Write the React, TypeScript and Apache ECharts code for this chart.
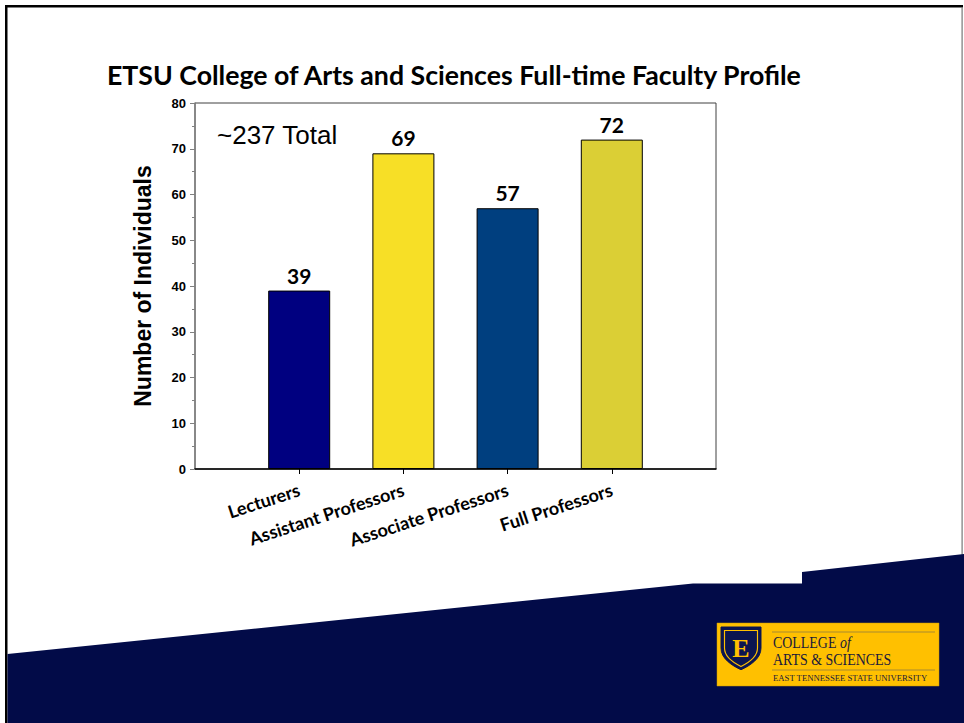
import React, { useEffect, useRef } from "react";
import * as echarts from "echarts";

const categories = ["Lecturers", "Assistant Professors", "Associate Professors", "Full Professors"];
const values = [39, 69, 57, 72];
const barColors = ["#000080", "#F7DF26", "#003F7F", "#DBCF35"];
const yTicks = { min: 0, max: 80, interval: 10 };

const shieldPath = "M0 0 L40 0 L40 22 C40 33 30 40 20 45 C10 40 0 33 0 22 Z";
let registered = false;

export default function App() {
  const ref = useRef<HTMLDivElement>(null);
  useEffect(() => {
    if (!ref.current) return;
    if (!registered) {
      echarts.graphic.registerShape("shield", echarts.graphic.extendPath(shieldPath, {}));
      registered = true;
    }
    const chart = echarts.init(ref.current, null, { renderer: "svg" });
    const cats = ["", ...categories, ""];
    const data: any[] = ["-", ...values.map((v, i) => ({ value: v, itemStyle: { color: barColors[i] } })), "-"];
    const navy = "#020B48";
    chart.setOption({
      animation: false,
      backgroundColor: "#ffffff",
      title: {
        text: "ETSU College of Arts and Sciences Full-time Faculty Profile",
        left: 102,
        top: 56,
        textStyle: { fontFamily: "Lato", fontWeight: "bold", fontSize: 26.7, color: "#000" },
      },
      grid: {
        left: 195,
        right: 248,
        top: 103,
        bottom: 254,
        show: true,
        borderColor: "#404040",
        borderWidth: 1,
        backgroundColor: "#fff",
      },
      xAxis: {
        type: "category",
        data: cats,
        boundaryGap: false,
        axisLine: { lineStyle: { color: "#000", width: 1.5 } },
        axisTick: {
          show: true,
          length: 5,
          interval: (i: number) => i >= 1 && i <= cats.length - 2,
          lineStyle: { color: "#000" },
        },
        axisLabel: {
          interval: 0,
          rotate: 18,
          margin: 20,
          fontFamily: "Lato",
          fontWeight: "bold",
          fontSize: 18,
          color: "#000",
        },
        splitLine: { show: false },
      },
      yAxis: {
        type: "value",
        min: yTicks.min,
        max: yTicks.max,
        interval: yTicks.interval,
        name: "Number of Individuals",
        nameLocation: "middle",
        nameRotate: 90,
        nameGap: 41,
        nameTextStyle: { fontFamily: "Liberation Sans", fontWeight: "bold", fontSize: 23, color: "#000" },
        axisLine: { show: true, lineStyle: { color: "#808080", width: 1.5 } },
        axisTick: { show: true, length: 5, lineStyle: { color: "#808080" } },
        minorTick: { show: true, splitNumber: 2, length: 3, lineStyle: { color: "#808080" } },
        axisLabel: {
          margin: 9,
          fontFamily: "Liberation Sans",
          fontWeight: "bold",
          fontSize: 13,
          color: "#000",
        },
        splitLine: { show: false },
      },
      series: [
        {
          type: "bar",
          data,
          barWidth: 62,
          itemStyle: { borderColor: "#000", borderWidth: 1 },
          label: {
            show: true,
            position: "top",
            distance: 5,
            fontFamily: "Lato",
            fontWeight: "bold",
            fontSize: 21,
            color: "#000",
          },
        },
      ],
      graphic: [
        {
          type: "text",
          left: 217,
          top: 122,
          style: { text: "~237 Total", font: "26px 'Liberation Sans'", fill: "#000" },
        },
        // frame
        { type: "rect", shape: { x: 5, y: 5, width: 958, height: 2.5 }, style: { fill: "#000" } },
        { type: "rect", shape: { x: 5, y: 5, width: 2.5, height: 718 }, style: { fill: "#000" } },
        { type: "rect", shape: { x: 961.5, y: 7, width: 1.2, height: 550 }, style: { fill: "#777" } },
        // navy band
        {
          type: "polygon",
          shape: {
            points: [
              [7.5, 654],
              [693, 583.5],
              [802, 583.5],
              [802, 572],
              [964, 554],
              [964, 723],
              [7.5, 723],
            ],
          },
          style: { fill: navy },
        },
        // logo
        {
          type: "group",
          x: 717,
          y: 623,
          children: [
            { type: "rect", shape: { x: 0, y: 0, width: 222, height: 63 }, style: { fill: "#FFC000", stroke: "#C99A00", lineWidth: 0.5 } },
            { type: "line", shape: { x1: 55, y1: 9, x2: 218, y2: 9 }, style: { stroke: "#A88A30", lineWidth: 1 } },
            { type: "line", shape: { x1: 55, y1: 47, x2: 218, y2: 47 }, style: { stroke: "#A88A30", lineWidth: 1 } },
            { type: "shield", x: 4, y: 4, scaleX: 1.0, scaleY: 0.95, style: { fill: "#0B1550", stroke: "#0B1550", lineWidth: 1 } },
            { type: "shield", x: 7.5, y: 7.5, scaleX: 0.825, scaleY: 0.8, style: { fill: "none", stroke: "#FFC000", lineWidth: 1.4 } },
            {
              type: "text",
              x: 24,
              y: 25,
              style: { text: "E", font: "bold 26px 'Liberation Serif'", fill: "#FFC000", align: "center", verticalAlign: "middle" },
            },
            {
              type: "text",
              x: 56,
              y: 19,
              scaleX: 0.82,
              style: {
                text: "{a|COLLEGE }{b|of}",
                verticalAlign: "middle",
                rich: {
                  a: { font: "17px 'Liberation Serif'", fill: "#1A1A3A" },
                  b: { font: "italic 17px 'Liberation Serif'", fill: "#1A1A3A" },
                },
              },
            },
            {
              type: "text",
              x: 56,
              y: 36,
              scaleX: 0.82,
              style: { text: "ARTS & SCIENCES", font: "17px 'Liberation Serif'", fill: "#1A1A3A", verticalAlign: "middle" },
            },
            {
              type: "text",
              x: 56,
              y: 55,
              scaleX: 1.0,
              style: { text: "EAST TENNESSEE STATE UNIVERSITY", font: "8.7px 'Liberation Serif'", fill: "#1A1A3A", verticalAlign: "middle" },
            },
          ],
        },
      ],
    });
    return () => chart.dispose();
  }, []);
  return <div ref={ref} style={{ position: "fixed", left: 0, top: 0, width: 964, height: 723 }} />;
}
